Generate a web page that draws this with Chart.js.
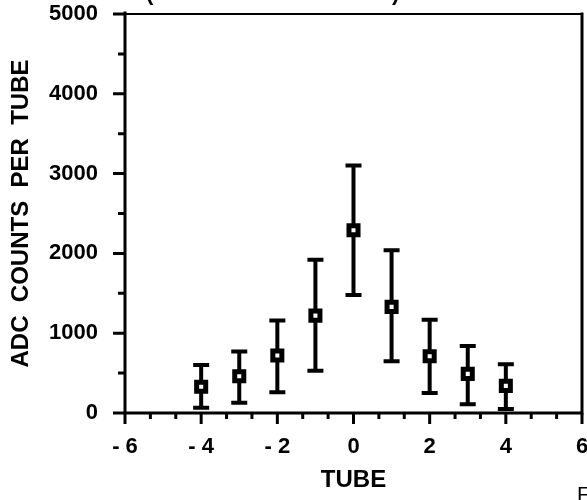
<!DOCTYPE html>
<html>
<head>
<meta charset="utf-8">
<script src="https://cdn.jsdelivr.net/npm/chart.js@4"></script>
<style>
  html, body { margin: 0; padding: 0; background: #fff; }
  #wrap { width: 587px; height: 500px; }
</style>
</head>
<body>
<div id="wrap"><canvas id="tubeChart" width="587" height="500"></canvas></div>
<script>
// tube offset vs. ADC counts, with error bar limits
const tubes = [-4, -3, -2, -1, 0, 1, 2, 3, 4];
const counts = [330, 460, 720, 1220, 2290, 1330, 710, 490, 340];
const countsHigh = [600, 770, 1160, 1920, 3100, 2040, 1170, 840, 610];
const countsLow = [65, 130, 260, 530, 1480, 650, 250, 110, 50];

// tick positions
const xMajor = [-6, -4, -2, 0, 2, 4, 6];
const xMinor = [-16/3, -14/3, -10/3, -8/3, -4/3, -2/3, 2/3, 4/3, 8/3, 10/3, 14/3, 16/3];
const yMajor = [0, 1000, 2000, 3000, 4000, 5000];
const yMinor = [500, 1500, 2500, 3500, 4500];

const FONT = 'Liberation Sans, Arial, Helvetica, sans-serif';

// error bars go under the markers
const errorBars = {
  id: 'errorBars',
  beforeDatasetsDraw(chart) {
    const { ctx, scales: { x, y } } = chart;
    ctx.save();
    ctx.strokeStyle = '#000';
    ctx.lineWidth = 4;
    ctx.lineCap = 'butt';
    tubes.forEach((t, i) => {
      const px = x.getPixelForValue(t);
      const hi = y.getPixelForValue(countsHigh[i]);
      const lo = y.getPixelForValue(countsLow[i]);
      ctx.beginPath();
      ctx.moveTo(px, hi); ctx.lineTo(px, lo);
      ctx.moveTo(px - 8, hi); ctx.lineTo(px + 8, hi);
      ctx.moveTo(px - 8, lo); ctx.lineTo(px + 8, lo);
      ctx.stroke();
    });
    ctx.restore();
  }
};

// frame and tick marks
const frame = {
  id: 'frame',
  afterDraw(chart) {
    const { ctx, chartArea: a, scales: { x, y } } = chart;
    ctx.save();
    ctx.strokeStyle = '#000';
    ctx.lineCap = 'square';
    ctx.lineWidth = 2;
    ctx.beginPath();
    ctx.moveTo(a.left, a.top); ctx.lineTo(a.right, a.top);
    ctx.stroke();
    ctx.lineWidth = 3;
    ctx.beginPath();
    ctx.moveTo(a.left, a.top - 1); ctx.lineTo(a.left, a.bottom);
    ctx.lineTo(a.right, a.bottom); ctx.lineTo(a.right, a.top);
    ctx.stroke();

    ctx.lineCap = 'butt';
    ctx.lineWidth = 3;
    ctx.beginPath();
    xMajor.forEach(v => { const p = x.getPixelForValue(v); ctx.moveTo(p, a.bottom); ctx.lineTo(p, a.bottom + 11); });
    xMinor.forEach(v => { const p = x.getPixelForValue(v); ctx.moveTo(p, a.bottom); ctx.lineTo(p, a.bottom + 6); });
    yMajor.forEach(v => { const p = y.getPixelForValue(v); ctx.moveTo(a.left, p); ctx.lineTo(a.left - 12, p); });
    yMinor.forEach(v => { const p = y.getPixelForValue(v); ctx.moveTo(a.left, p); ctx.lineTo(a.left - 7, p); });
    ctx.stroke();

    // bits of surrounding page text at the edges
    ctx.fillStyle = '#000';
    ctx.font = 'bold 22px ' + FONT;
    ctx.textBaseline = 'alphabetic';
    ctx.fillText('(', 146, 0);
    ctx.fillText(')', 392, 0);
    ctx.font = '21px ' + FONT;
    ctx.fillText('F', 577, 501);
    ctx.restore();
  }
};

new Chart(document.getElementById('tubeChart'), {
  type: 'scatter',
  data: {
    datasets: [{
      data: tubes.map((t, i) => ({ x: t, y: counts[i] })),
      pointStyle: 'rect',
      pointRadius: 6.4,
      pointHoverRadius: 6.4,
      pointBorderWidth: 5,
      pointBorderColor: '#000',
      pointBackgroundColor: '#fff'
    }]
  },
  options: {
    responsive: false,
    animation: false,
    layout: { autoPadding: false, padding: { top: 14, right: 5, left: 3, bottom: 0 } },
    plugins: { legend: { display: false }, tooltip: { enabled: false } },
    scales: {
      x: {
        type: 'linear', min: -6, max: 6,
        afterBuildTicks: s => { s.ticks = xMajor.map(v => ({ value: v })); },
        afterFit: s => { s.height = 87; s.paddingLeft = 0; s.paddingRight = 0; },
        grid: { display: false },
        border: { display: false },
        ticks: {
          color: '#000', padding: 13, maxRotation: 0,
          font: { family: FONT, size: 22, weight: 'bold' },
          callback: v => (v < 0 ? '- ' + (-v) : String(v))
        },
        title: {
          display: true, text: 'TUBE', color: '#000',
          font: { family: FONT, size: 24, weight: 'bold' },
          padding: { top: 0, bottom: 5 }
        }
      },
      y: {
        min: 0, max: 5000,
        afterBuildTicks: s => { s.ticks = yMajor.map(v => ({ value: v })); },
        afterFit: s => { s.width = 122; s.paddingTop = 0; s.paddingBottom = 0; },
        grid: { display: false },
        border: { display: false },
        ticks: {
          color: '#000', padding: 19,
          font: { family: FONT, size: 22, weight: 'bold' },
          callback: v => String(v)
        },
        title: {
          display: true, text: 'ADC  COUNTS  PER  TUBE', color: '#000',
          font: { family: FONT, size: 24, weight: 'bold' },
          padding: { top: 4, bottom: 0 }
        }
      }
    }
  },
  plugins: [errorBars, frame]
});
</script>
</body>
</html>
